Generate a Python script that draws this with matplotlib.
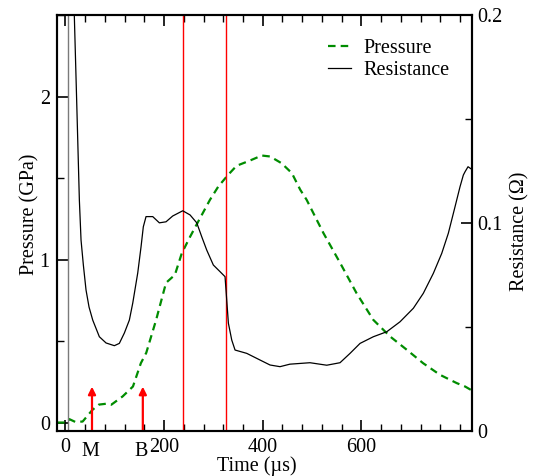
import matplotlib
matplotlib.use("Agg")
import matplotlib.pyplot as plt
from matplotlib.ticker import MultipleLocator, FixedLocator, FuncFormatter

plt.rcParams['font.family'] = ['Liberation Serif', 'DejaVu Serif']

# ---- data ----
time_p = [-17, 1, 8, 20, 35, 55, 68, 82, 93, 116, 137, 153, 164, 184, 204, 222,
          236, 253, 273, 293, 310, 330, 347, 374, 398, 415, 438, 459, 476, 489,
          523, 557, 590, 624, 658, 692, 725, 759, 793, 810, 822]
pressure = [0.0, 0.0, 0.021, 0.004, 0.006, 0.078, 0.11, 0.115, 0.109, 0.16, 0.221,
            0.364, 0.428, 0.63, 0.857, 0.906, 1.039, 1.141, 1.254, 1.366, 1.448,
            1.52, 1.575, 1.607, 1.638, 1.632, 1.591, 1.53, 1.428, 1.366, 1.162,
            0.978, 0.794, 0.63, 0.528, 0.446, 0.364, 0.293, 0.242, 0.221, 0.20]

time_r = [17, 18.2, 23.3, 28.4, 31.8, 36.5, 41.9, 48, 55.5, 68.9, 82.5, 99.3,
          109.4, 119.6, 129.7, 136.6, 146.7, 153.4, 158, 163.5, 177.1, 190.5,
          204, 217.6, 237.9, 252.7, 266.3, 276.4, 286.5, 299.9, 313.5, 323.6,
          327, 330.4, 337.2, 343.9, 367.6, 394.5, 414.8, 435, 455, 495.7, 529.7,
          556.6, 576.9, 597.2, 624.1, 651.3, 678.2, 705.2, 725.4, 745.7, 762.7,
          776.1, 789.7, 799.8, 806.5, 810, 816, 822]
resistance = [0.21, 0.1996, 0.1557, 0.111, 0.0917, 0.0797, 0.0677, 0.0595, 0.0532,
              0.0452, 0.0422, 0.0409, 0.042, 0.047, 0.0532, 0.0614, 0.0759, 0.0885,
              0.0981, 0.103, 0.103, 0.100, 0.1005, 0.1033, 0.1058, 0.1038, 0.100,
              0.0933, 0.0869, 0.0797, 0.0765, 0.0741, 0.0629, 0.0517, 0.0436,
              0.0388, 0.0372, 0.034, 0.0316, 0.0308, 0.032, 0.0327, 0.0315, 0.0327,
              0.0372, 0.042, 0.0452, 0.0476, 0.0524, 0.0589, 0.0661, 0.0757,
              0.0853, 0.095, 0.1078, 0.1174, 0.123, 0.1246, 0.127, 0.126]

red_lines = [239, 326]
arrow_times = [54, 157]
arrow_labels = ['M', 'B']
arrow_top = 0.22
trace_start = 4.7

# ---- figure ----
fig = plt.figure(figsize=(5.36, 4.76), dpi=100)
ax = fig.add_axes([0.1058, 0.0952, 0.7743, 0.8733])
ax2 = ax.twinx()

FS = 14.5
green = '#008c00'

lp, = ax.plot(time_p, pressure, color=green, lw=1.6,
              linestyle=(0, (3.4, 2.3)), label='Pressure')
ax.axvline(trace_start, color='#7a7a7a', lw=1.0)
for t in red_lines:
    ax.axvline(t, color='red', lw=1.0)
for t in arrow_times:
    ax.annotate('', xy=(t, arrow_top), xytext=(t, -0.05),
                arrowprops=dict(arrowstyle='-|>', color='red', lw=1.6,
                                mutation_scale=11, shrinkA=0, shrinkB=0))
for t, lab in zip(arrow_times, arrow_labels):
    ax.text(t - 4, -0.05, lab, transform=ax.get_xaxis_transform(),
            ha='center', va='center', fontsize=FS)

lr, = ax2.plot(time_r, resistance, color='black', lw=0.9, label='Resistance')

ax.set_xlim(-17.5, 823.5)
ax.set_ylim(-0.05, 2.5)
ax2.set_ylim(0, 0.2)

ax.xaxis.set_major_locator(FixedLocator([0, 200, 400, 600]))
ax.xaxis.set_minor_locator(MultipleLocator(40))
ax.yaxis.set_major_locator(MultipleLocator(1))
ax.yaxis.set_minor_locator(MultipleLocator(0.5))
ax2.yaxis.set_major_locator(MultipleLocator(0.1))
ax2.yaxis.set_minor_locator(MultipleLocator(0.05))
ax2.yaxis.set_major_formatter(FuncFormatter(lambda v, p: '0' if abs(v) < 1e-9 else f'{v:.1f}'))

ax.tick_params(axis='x', which='both', direction='in', top=True, bottom=True,
               labelsize=FS, pad=5)
ax.tick_params(axis='y', which='both', direction='in', left=True, right=False,
               labelsize=FS, pad=5)
ax2.tick_params(axis='y', which='both', direction='in', labelsize=FS, pad=4)
for a in (ax, ax2):
    a.tick_params(which='major', length=8, width=1.2)
    a.tick_params(which='minor', length=5, width=1.0)
    for s in a.spines.values():
        s.set_linewidth(1.5)

ax.set_xlabel('Time (µs)', fontsize=FS)
ax.xaxis.set_label_coords(0.483, -0.062)
ax.set_ylabel('Pressure (GPa)', fontsize=FS)
ax.yaxis.set_label_coords(-0.042, 0.52)
ax2.set_ylabel('Resistance (Ω)', fontsize=FS)
ax2.yaxis.set_label_coords(1.093, 0.48)

ax2.legend(handles=[lp, lr], loc='upper left', bbox_to_anchor=(0.635, 0.962),
           frameon=False, fontsize=FS, handlelength=1.15, handletextpad=0.6,
           labelspacing=0.15, borderaxespad=0)

fig.savefig('out.png', dpi=100)
